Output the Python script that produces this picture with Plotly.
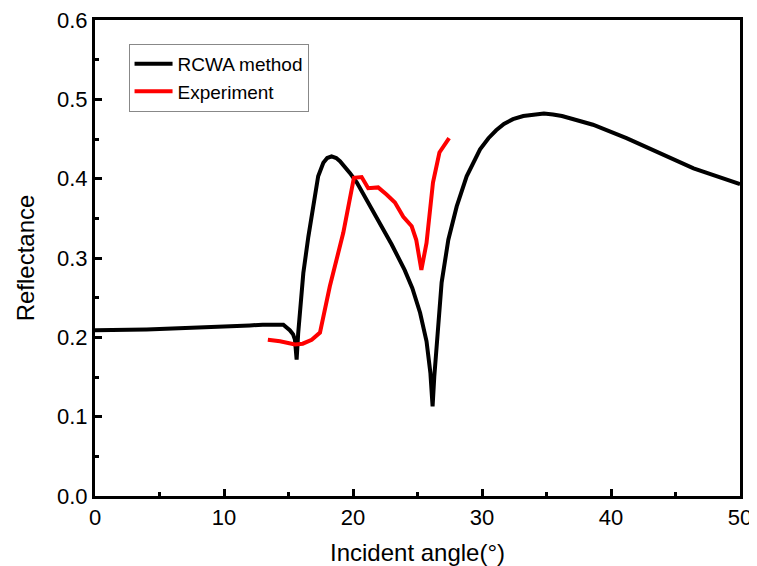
import plotly.graph_objects as go

rcwa_x = [0, 2, 4, 6, 8, 10, 12, 13, 14, 14.6, 15.1, 15.35, 15.5, 15.63, 15.75, 15.9, 16.15,
          16.54, 16.9, 17.3, 17.7, 18.0, 18.34, 18.7, 18.99, 19.4, 19.77, 20.3, 21, 22, 23,
          24, 24.6, 25.2, 25.7, 26.0, 26.17, 26.3, 26.48, 26.87, 27.39, 28.04, 28.81, 29.4,
          29.85, 30.5, 31.1, 31.7, 32.4, 33.2, 34.0, 34.8, 35.5, 36.2, 37.3, 38.6, 41.2,
          43.8, 46.4, 50]
rcwa_y = [0.209, 0.209, 0.210, 0.211, 0.212, 0.213, 0.215, 0.216, 0.216, 0.216, 0.209, 0.204,
          0.197, 0.172, 0.205, 0.231, 0.281, 0.327, 0.365, 0.403, 0.420, 0.426, 0.428, 0.426,
          0.422, 0.415, 0.407, 0.395, 0.375, 0.346, 0.317, 0.285, 0.262, 0.231, 0.195, 0.155,
          0.113, 0.150, 0.184, 0.269, 0.323, 0.365, 0.403, 0.423, 0.437, 0.451, 0.461, 0.469,
          0.475, 0.479, 0.481, 0.482, 0.481, 0.479, 0.474, 0.468, 0.451, 0.432, 0.413, 0.393]

exp_x = [13.4, 14.34, 15.5, 16.1, 16.8, 17.44, 18.2, 19.25, 20.07, 20.67, 21.18, 21.95,
         22.6, 23.25, 23.9, 24.55, 24.9, 25.3, 25.7, 26.2, 26.7, 27.45]
exp_y = [0.197, 0.195, 0.191, 0.192, 0.197, 0.206, 0.264, 0.332, 0.401, 0.402, 0.388, 0.389,
         0.380, 0.370, 0.352, 0.340, 0.323, 0.285, 0.319, 0.395, 0.433, 0.451]

fig = go.Figure()
fig.add_trace(go.Scatter(x=rcwa_x, y=rcwa_y, mode="lines", name="RCWA method",
                         line=dict(color="black", width=4)))
fig.add_trace(go.Scatter(x=exp_x, y=exp_y, mode="lines", name="Experiment",
                         line=dict(color="red", width=4)))

font = "Liberation Sans, Arial, sans-serif"
axis_common = dict(showline=True, linecolor="black", linewidth=3, mirror=True,
                   ticks="inside", tickcolor="black", tickwidth=3, ticklen=7,
                   showgrid=False, zeroline=False, automargin=False,
                   ticklabeloverflow="allow",
                   tickfont=dict(family=font, size=22, color="black"))

# page body adds an 8px offset, so the figure is slightly smaller than the window
fig.update_layout(
    width=749, height=558,
    margin=dict(l=87, r=17, t=12, b=70),
    paper_bgcolor="white", plot_bgcolor="white",
    showlegend=True,
    legend=dict(x=0.052, y=0.95, xanchor="left", yanchor="top",
                bordercolor="#888888", borderwidth=1, bgcolor="white",
                font=dict(family=font, size=19, color="black"),
                tracegroupgap=0, itemwidth=38),
    xaxis=dict(range=[0, 50], dtick=10,
               minor=dict(dtick=5, ticks="inside", ticklen=4, tickwidth=3, tickcolor="black"),
               title=dict(text="Incident angle(°)", font=dict(family=font, size=24, color="black"),
                          standoff=15),
               **axis_common),
    yaxis=dict(range=[0, 0.6], dtick=0.1, tickformat=".1f",
               minor=dict(dtick=0.05, ticks="inside", ticklen=4, tickwidth=3, tickcolor="black"),
               title=dict(text="Reflectance", font=dict(family=font, size=24, color="black"),
                          standoff=16),
               **axis_common),
)

fig.write_html("out.html")
